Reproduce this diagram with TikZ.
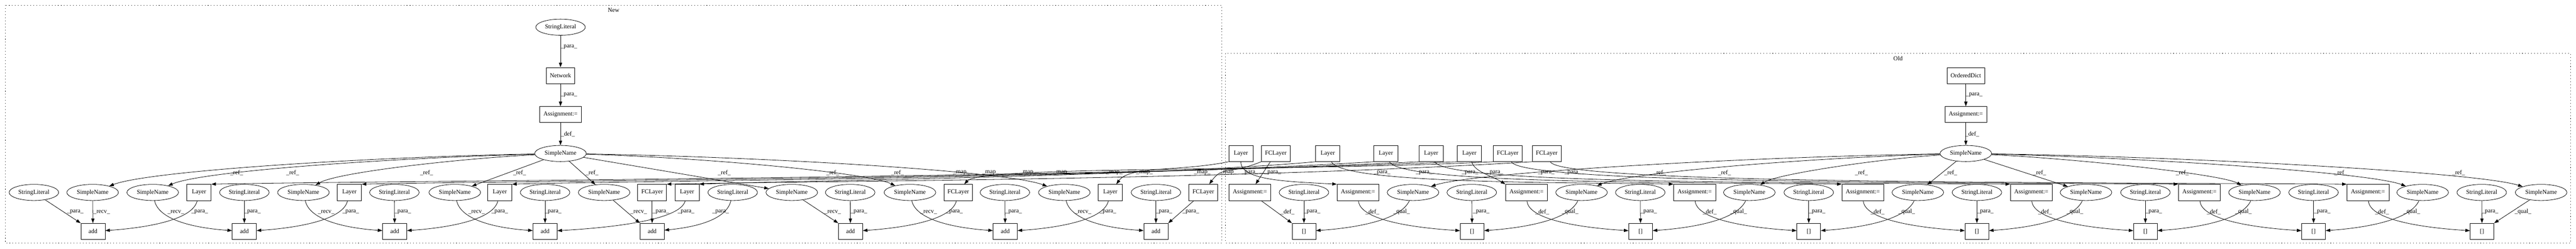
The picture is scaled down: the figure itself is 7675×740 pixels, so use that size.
\documentclass[tikz,border=0pt]{standalone}
\usepackage{fontspec}
\setmainfont{Liberation Serif}
\usetikzlibrary{shapes.geometric,arrows.meta,calc}
\begin{document}
\begin{tikzpicture}[x=0.735pt,y=-0.735pt,
  every node/.style={font=\fontsize{13.3}{16}\selectfont},
  el/.style={draw,ellipse,line width=0.9pt,minimum height=35.3pt,inner sep=0pt},
  sl/.style={el,minimum width=108.5pt},
  sn/.style={el,minimum width=113pt},
  bx/.style={draw,rectangle,line width=0.9pt,minimum height=35.3pt,inner sep=0pt},
  ly/.style={bx,minimum width=53pt},
  fc/.style={bx,minimum width=63pt},
  ad/.style={bx,minimum width=53pt},
  as/.style={bx,minimum width=92pt},
  br/.style={bx,minimum width=52pt},
  e/.style={-{Triangle[length=10pt,width=7pt]},line width=0.9pt},
  lb/.style={inner sep=1pt},
  clu/.style={draw,line width=1pt,dash pattern=on 1.2pt off 5.5pt},
]
\useasboundingbox (0,0) rectangle (7675,740);
% clusters
\draw[clu] (15.6,15.6) rectangle (3640,723);
\draw[clu] (3651,159.5) rectangle (7659,723);
\node (cNew) at (1828,30) {New};
\node (cOld) at (5655,174) {Old};

% ---------------- New ----------------
\node[sl] (nSLt) at (1670,81) {StringLiteral};
\node[bx,minimum width=62.5pt] (nNet) at (1670,225) {Network};
\node[as] (nAs) at (1670,341) {Assignment:=};
\node[sn] (nSN) at (1670,457) {SimpleName};

\node[sl] (n1) at (101,573) {StringLiteral};
\node[sn] (n2) at (276,573) {SimpleName};
\node[sn] (n3) at (455,573) {SimpleName};
\node[ly] (n4) at (593,573) {Layer};
\node[sl] (n5) at (728,573) {StringLiteral};
\node[sn] (n6) at (904,573) {SimpleName};
\node[ly] (n7) at (1041,573) {Layer};
\node[sl] (n8) at (1175,573) {StringLiteral};
\node[sn] (n9) at (1355,573) {SimpleName};
\node[ly] (n10) at (1489,573) {Layer};
\node[sl] (n11) at (1624,573) {StringLiteral};
\node[sn] (n12) at (1800,573) {SimpleName};
\node[fc] (n13) at (1943,573) {FCLayer};
\node[ly] (n14) at (2047,573) {Layer};
\node[sl] (n15) at (2183,573) {StringLiteral};
\node[sn] (n16) at (2359,573) {SimpleName};
\node[sl] (n17) at (2533,573) {StringLiteral};
\node[sn] (n18) at (2711,573) {SimpleName};
\node[fc] (n19) at (2855,573) {FCLayer};
\node[sl] (n20) at (2994,573) {StringLiteral};
\node[sn] (n21) at (3171,573) {SimpleName};
\node[ly] (n22) at (3308,573) {Layer};
\node[sl] (n23) at (3444,573) {StringLiteral};
\node[fc] (n24) at (3585,573) {FCLayer};

\node[ad] (a1) at (277,689) {add};
\node[ad] (a2) at (728,689) {add};
\node[ad] (a3) at (1176,689) {add};
\node[ad] (a4) at (1624,689) {add};
\node[ad] (a5) at (1943,689) {add};
\node[ad] (a6) at (2534,689) {add};
\node[ad] (a7) at (2995,689) {add};
\node[ad] (a8) at (3444,689) {add};

% ---------------- Old ----------------
\node[bx,minimum width=82pt] (oOD) at (5857,225) {OrderedDict};
\node[as] (oAs) at (5857,341) {Assignment:=};
\node[sn] (oSN) at (5857,457) {SimpleName};

\node[ly] (oL1) at (3697,457) {Layer};
\node[fc] (oF1) at (3801,457) {FCLayer};
\node[ly] (oL2) at (3956,457) {Layer};
\node[ly] (oL3) at (4129,457) {Layer};
\node[ly] (oL4) at (4264,457) {Layer};
\node[ly] (oL5) at (4378,457) {Layer};
\node[fc] (oF2) at (4492,457) {FCLayer};
\node[fc] (oF3) at (4608,457) {FCLayer};

\node[as] (oA1) at (3724,573) {Assignment:=};
\node[sl] (oS1) at (3885,573) {StringLiteral};
\node[as] (oA2) at (4046,573) {Assignment:=};
\node[sn] (oN1) at (4210,573) {SimpleName};
\node[sl] (oS2) at (4385,573) {StringLiteral};
\node[as] (oA3) at (4548,573) {Assignment:=};
\node[sn] (oN2) at (4712,573) {SimpleName};
\node[sl] (oS3) at (4887,573) {StringLiteral};
\node[as] (oA4) at (5049,573) {Assignment:=};
\node[sn] (oN3) at (5212,573) {SimpleName};
\node[sl] (oS4) at (5389,573) {StringLiteral};
\node[as] (oA5) at (5550,573) {Assignment:=};
\node[sn] (oN4) at (5714,573) {SimpleName};
\node[sl] (oS5) at (5890,573) {StringLiteral};
\node[as] (oA6) at (6052,573) {Assignment:=};
\node[sn] (oN5) at (6215,573) {SimpleName};
\node[sl] (oS6) at (6392,573) {StringLiteral};
\node[as] (oA7) at (6553,573) {Assignment:=};
\node[sn] (oN6) at (6717,573) {SimpleName};
\node[sl] (oS7) at (6893,573) {StringLiteral};
\node[as] (oA8) at (7055,573) {Assignment:=};
\node[sn] (oN7) at (7218,573) {SimpleName};
\node[sl] (oS8) at (7394,573) {StringLiteral};
\node[sn] (oN8) at (7571,573) {SimpleName};

\node[br] (b1) at (3885,689) {[]};
\node[br] (b2) at (4386,689) {[]};
\node[br] (b3) at (4888,689) {[]};
\node[br] (b4) at (5389,689) {[]};
\node[br] (b5) at (5890,689) {[]};
\node[br] (b6) at (6392,689) {[]};
\node[br] (b7) at (6893,689) {[]};
\node[br] (b8) at (7395,689) {[]};

% ---------------- New edges ----------------
\draw[e] (nSLt) -- (nNet);
\draw[e] (nNet) -- (nAs);
\draw[e] (nAs) -- (nSN);

\draw[e] (nSN) .. controls +(-560,10) and +(170,-65) .. (n2);
\draw[e] (nSN) .. controls +(-490,13) and +(150,-65) .. (n3);
\draw[e] (nSN) .. controls +(-300,15) and +(100,-60) .. (n6);
\draw[e] (nSN) -- (n9);
\draw[e] (nSN) -- (n12);
\draw[e] (nSN) -- (n16);
\draw[e] (nSN) .. controls +(420,12) and +(-130,-60) .. (n18);
\draw[e] (nSN) .. controls +(600,10) and +(-180,-65) .. (n21);

\draw[e] (n1) -- (a1.north west);
\draw[e] (n2) -- (a1);
\draw[e] (n4) .. controls +(-20,90) and +(120,-8) .. (a1);
\draw[e] (n3) .. controls +(20,90) and +(-120,-8) .. (a2);
\draw[e] (n5) -- (a2);
\draw[e] (n7) .. controls +(-20,90) and +(120,-8) .. (a2);
\draw[e] (n6) .. controls +(20,90) and +(-120,-8) .. (a3);
\draw[e] (n8) -- (a3);
\draw[e] (n10) .. controls +(-20,90) and +(120,-8) .. (a3);
\draw[e] (n9) .. controls +(20,90) and +(-120,-8) .. (a4);
\draw[e] (n11) -- (a4);
\draw[e] (n14) .. controls +(-20,90) and +(140,-8) .. (a4);
\draw[e] (n12) -- (a5.north west);
\draw[e] (n13) -- (a5);
\draw[e] (n15) .. controls +(-20,90) and +(100,-10) .. (a5);
\draw[e] (n16) -- (a6.north west);
\draw[e] (n17) -- (a6);
\draw[e] (n19) .. controls +(-20,90) and +(120,-8) .. (a6);
\draw[e] (n18) .. controls +(20,90) and +(-120,-8) .. (a7);
\draw[e] (n20) -- (a7);
\draw[e] (n22) .. controls +(-20,90) and +(120,-8) .. (a7);
\draw[e] (n21) .. controls +(20,90) and +(-120,-8) .. (a8);
\draw[e] (n23) -- (a8);
\draw[e] (n24) -- (a8.north east);

% ---------------- map edges ----------------
\draw[e] (oL1.south west) .. controls +(-150,30) and +(40,-55) .. ($(n22.north)+(18,0)$);
\draw[e] (oF1.south west) .. controls +(-100,40) and +(40,-55) .. ($(n24.north)+(18,0)$);
\draw[e] (oL2.south west) .. controls +(-500,45) and +(250,-10) .. (n14.north east);
\draw[e] (oL3.south west) .. controls +(-800,50) and +(350,-10) .. (n10.north east);
\draw[e] (oL4.south west) .. controls +(-1000,50) and +(450,-10) .. (n7.north east);
\draw[e] (oL5.south west) .. controls +(-1200,50) and +(500,-10) .. (n4.north east);
\draw[e] (oF2.south west) .. controls +(-600,30) and +(50,-55) .. ($(n19.north)+(18,0)$);
\draw[e] (oF3.south west) .. controls +(-900,55) and +(450,-10) .. (n13.north east);

% ---------------- Old edges ----------------
\draw[e] (oOD) -- (oAs);
\draw[e] (oAs) -- (oSN);

\draw[e] (oF1) -- ($(oA1.north)+(17,0)$);
\draw[e] (oL1) .. controls +(0,80) and +(-150,-8) .. (oA2.north west);
\draw[e] (oL5) .. controls +(15,55) and +(-40,-25) .. (oA3.north west);
\draw[e] (oL2) .. controls +(40,90) and +(-350,-6) .. (oA4.north west);
\draw[e] (oL3) .. controls +(40,90) and +(-500,-6) .. (oA5.north west);
\draw[e] (oL4) .. controls +(40,90) and +(-700,-6) .. (oA6.north west);
\draw[e] (oF2) .. controls +(40,90) and +(-700,-6) .. (oA7.north west);
\draw[e] (oF3) .. controls +(40,90) and +(-900,-6) .. (oA8.north west);

\draw[e] (oSN) .. controls +(-650,10) and +(180,-60) .. (oN1);
\draw[e] (oSN) .. controls +(-450,12) and +(140,-60) .. (oN2);
\draw[e] (oSN) .. controls +(-250,15) and +(80,-55) .. (oN3);
\draw[e] (oSN) -- (oN4);
\draw[e] (oSN) -- (oN5);
\draw[e] (oSN) .. controls +(320,15) and +(-100,-55) .. (oN6);
\draw[e] (oSN) .. controls +(520,12) and +(-160,-60) .. (oN7);
\draw[e] (oSN) .. controls +(680,10) and +(-190,-60) .. (oN8);

\draw[e] (oA1) -- (b1.north west);
\draw[e] (oS1) -- (b1);
\draw[e] (oN1) .. controls +(-40,90) and +(120,-8) .. (b1);
\draw[e] (oA2) .. controls +(5,90) and +(-130,-8) .. (b2);
\draw[e] (oS2) -- (b2);
\draw[e] (oN2) .. controls +(-40,90) and +(120,-8) .. (b2);
\draw[e] (oA3) .. controls +(5,90) and +(-130,-8) .. (b3);
\draw[e] (oS3) -- (b3);
\draw[e] (oN3) .. controls +(-40,90) and +(120,-8) .. (b3);
\draw[e] (oA4) .. controls +(5,90) and +(-130,-8) .. (b4);
\draw[e] (oS4) -- (b4);
\draw[e] (oN4) .. controls +(-40,90) and +(120,-8) .. (b4);
\draw[e] (oA5) .. controls +(5,90) and +(-130,-8) .. (b5);
\draw[e] (oS5) -- (b5);
\draw[e] (oN5) .. controls +(-40,90) and +(120,-8) .. (b5);
\draw[e] (oA6) .. controls +(5,90) and +(-130,-8) .. (b6);
\draw[e] (oS6) -- (b6);
\draw[e] (oN6) .. controls +(-40,90) and +(120,-8) .. (b6);
\draw[e] (oA7) .. controls +(5,90) and +(-130,-8) .. (b7);
\draw[e] (oS7) -- (b7);
\draw[e] (oN7) .. controls +(-40,90) and +(120,-8) .. (b7);
\draw[e] (oA8) .. controls +(5,90) and +(-130,-8) .. (b8);
\draw[e] (oS8) -- (b8);
\draw[e] (oN8) -- (b8.north east);

% ---------------- labels ----------------
\node[lb] at (1695,139) {\_para\_};
\node[lb] at (1695,283) {\_para\_};
\node[lb] at (1692,399) {\_def\_};
\node[lb] at (5882,283) {\_para\_};
\node[lb] at (5876,399) {\_def\_};

\foreach \x in {705,872,1271,1548,1764,2158,2481,2674,4945,5138,5546,5812,6077,6502,6974,7325}
  \node[lb] at (\x,514) {\_ref\_};
\foreach \x in {2864,2951,3063,3163,3320,3410,3582,3660}
  \node[lb] at (\x,514) {\_map\_};
\foreach \x in {3724,3792,4118,4243,4380,4454,4607,4686}
  \node[lb] at (\x,514) {\_para\_};

\foreach \x in {224,595,752,1045,1200,1489,1648,1969,2044,2147,2559,2844,3020,3301,3468,3548,3909,4413,4912,5414,5915,6417,6919,7419}
  \node[lb] at (\x,631) {\_para\_};
\foreach \x in {303,524,972,1420,1903,2481,2767,3227}
  \node[lb] at (\x,631) {\_recv\_};
\foreach \x in {3836,4089,4595,5094,5594,6093,6596,7097}
  \node[lb] at (\x,631) {\_def\_};
\foreach \x in {4176,4678,5180,5681,6182,6684,7186,7517}
  \node[lb] at (\x,631) {\_qual\_};
\end{tikzpicture}
\end{document}
